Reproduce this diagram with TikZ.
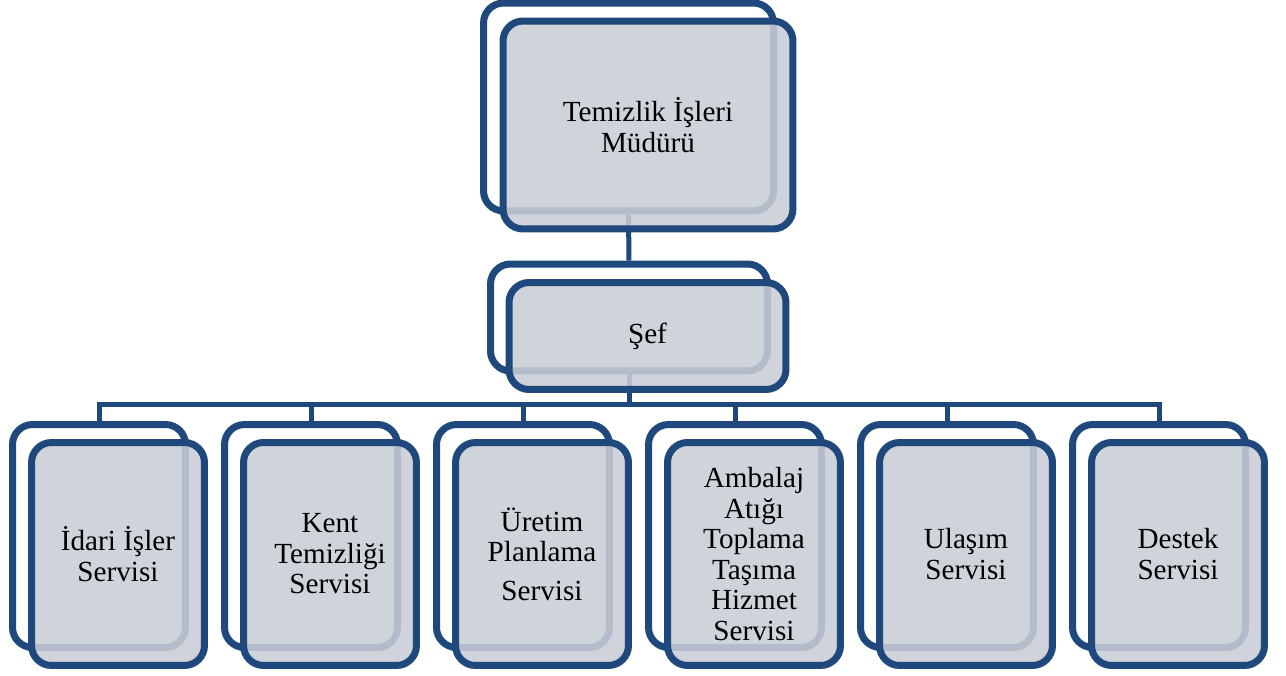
\documentclass[tikz,border=0pt]{standalone}
\usepackage{fontspec}
\setmainfont{Liberation Serif}
\usetikzlibrary{backgrounds}

\definecolor{boxblue}{HTML}{1F497D}
\definecolor{boxgray}{RGB}{201,205,214}

\tikzset{
  backbox/.style={draw=boxblue, line width=0.14cm, rounded corners=0.4cm, fill=white},
  frontbox/.style={draw=boxblue, line width=0.14cm, rounded corners=0.4cm,
    fill=boxgray, fill opacity=0.88, text opacity=1, align=center,
    font=\fontsize{16.6}{17.4}\selectfont},
  link/.style={draw=boxblue, line width=0.1cm},
  topsize/.style={minimum width=5.8cm, minimum height=4.16cm},
  sefsize/.style={minimum width=5.54cm, minimum height=2.14cm},
  unitsize/.style={minimum width=3.46cm, minimum height=4.46cm},
}

\begin{document}
\begin{tikzpicture}[x=0.02cm, y=-0.02cm]
  \useasboundingbox (0,0) rectangle (1286,676);

  % back boxes
  \node[backbox, topsize] (mudurB) at (628.5,107) {};
  \node[backbox, sefsize] (sefB) at (629,317.5) {};
  \foreach \i in {1,...,6}
    \node[backbox, unitsize] (back\i) at (99+212*\i-212,536) {};

  % front boxes
  \node[frontbox, topsize] (mudur) at (648,125) {Temizlik İşleri\\Müdürü};
  \node[frontbox, sefsize] (sef) at (647.5,336) {Şef};
  \foreach \i/\t in {1/{İdari İşler\\Servisi},
                     2/{Kent\\Temizliği\\Servisi},
                     3/{Üretim\\Planlama\\[0.16cm]Servisi},
                     4/{Ambalaj\\Atığı\\Toplama\\Taşıma\\Hizmet\\Servisi},
                     5/{Ulaşım\\Servisi},
                     6/{Destek\\Servisi}}
    \node[frontbox, unitsize] (unit\i) at (118+212*\i-212,554) {\t};

  % connectors
  \begin{scope}[on background layer]
    \draw[link] (mudurB.south) -- (sefB.north);
    \foreach \i in {1,...,6}
      \draw[link] (back\i.north) -- ++(0,-17) -| (sefB.south);
  \end{scope}
\end{tikzpicture}
\end{document}
